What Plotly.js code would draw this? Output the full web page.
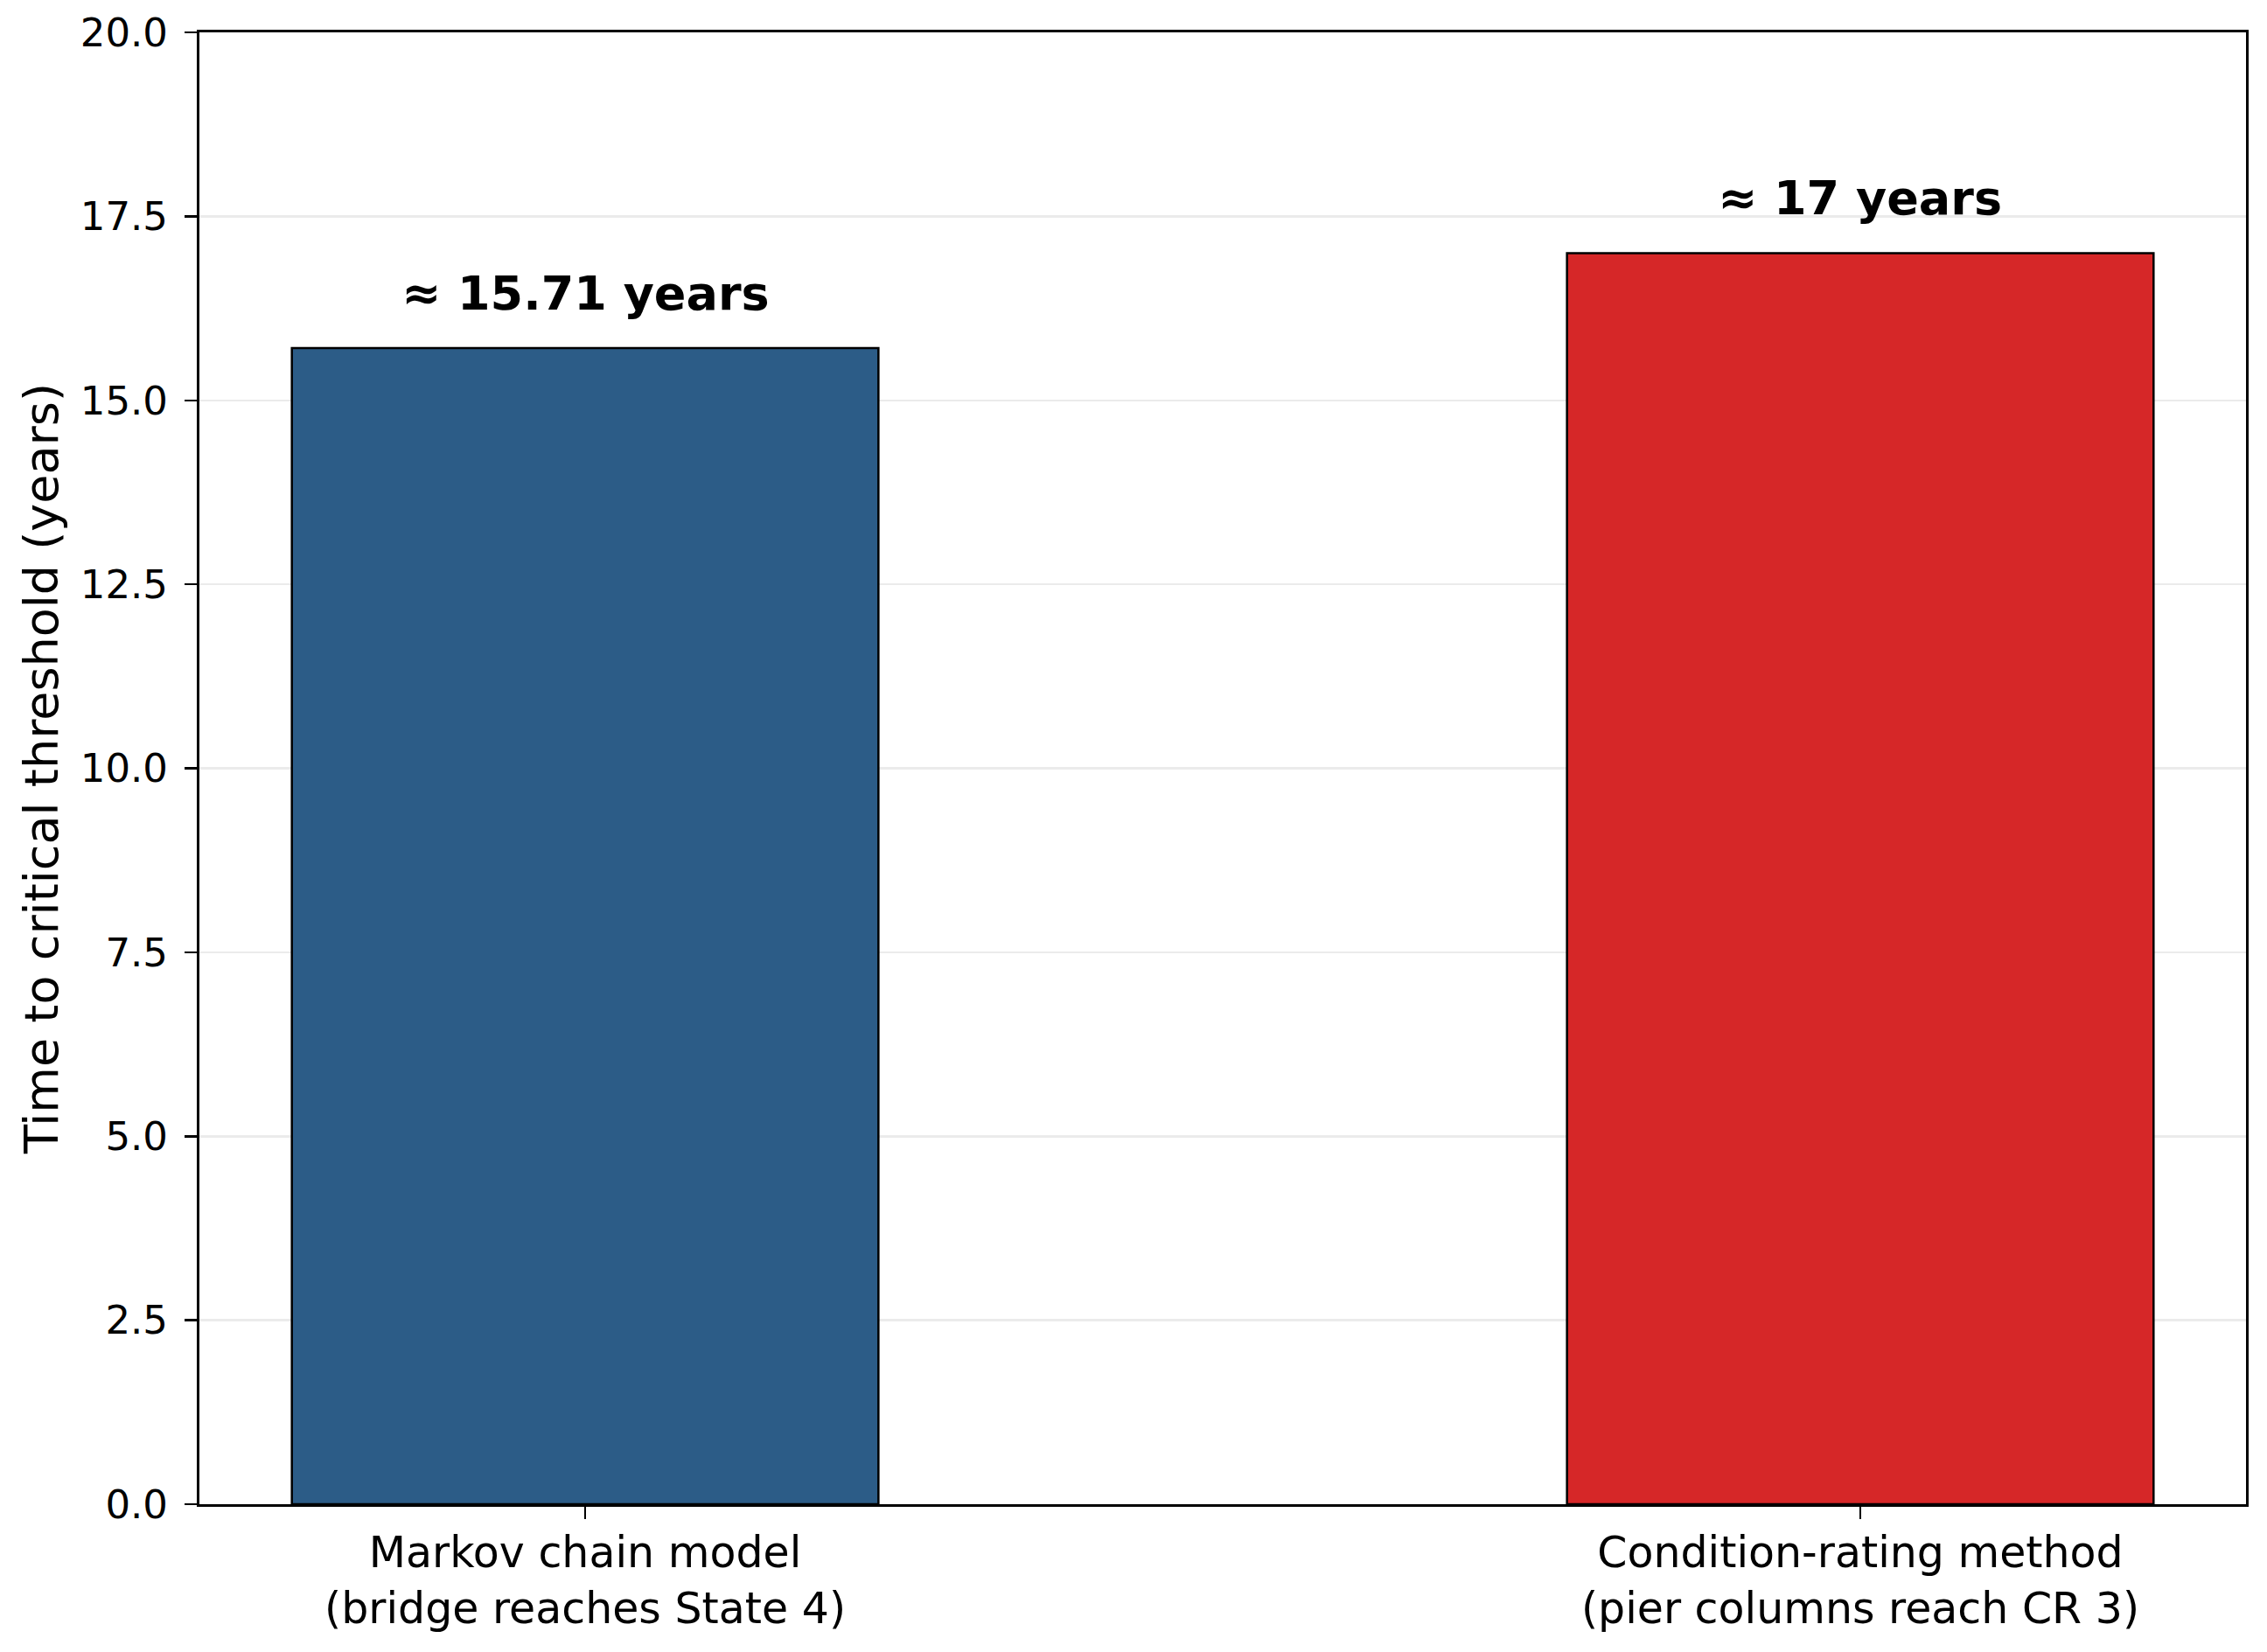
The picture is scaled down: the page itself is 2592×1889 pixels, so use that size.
<!DOCTYPE html>
<html>
<head>
<meta charset="utf-8">
<script src="https://cdn.plot.ly/plotly-3.0.1.min.js"></script>
<style>
  html, body { margin: 0; padding: 0; background: #ffffff; }
  #chart { width: 2592px; height: 1889px; }
</style>
</head>
<body>
<div id="chart"></div>
<script>
var categories = [
  'Markov chain model<br>(bridge reaches State 4)',
  'Condition-rating method<br>(pier columns reach CR 3)'
];
var years = [15.71, 17];
var barLabels = ['≈ 15.71 years', '≈ 17 years'];
var barColors = ['#2c5c87', '#d62728'];
var yTicks = [0, 2.5, 5, 7.5, 10, 12.5, 15, 17.5, 20];

var fontFamily = 'DejaVu Sans, Liberation Sans, sans-serif';

var trace = {
  type: 'bar',
  x: categories,
  y: years,
  width: 0.46,
  marker: {
    color: barColors,
    line: { color: '#000000', width: 2.5 }
  },
  hoverinfo: 'skip'
};

// bold value labels sitting above each bar
var annotations = categories.map(function (cat, i) {
  return {
    x: cat,
    y: years[i],
    xref: 'x',
    yref: 'y',
    text: '<b>' + barLabels[i] + '</b>',
    showarrow: false,
    xanchor: 'center',
    yanchor: 'bottom',
    yshift: 29,
    font: { family: fontFamily, size: 54, color: '#000000' }
  };
});

var layout = {
  width: 2592,
  height: 1889,
  margin: { l: 228, r: 24, t: 37, b: 169, pad: 0 },
  paper_bgcolor: '#ffffff',
  plot_bgcolor: '#ffffff',
  font: { family: fontFamily, color: '#000000', size: 49 },
  showlegend: false,
  bargap: 0,
  annotations: annotations,
  xaxis: {
    type: 'category',
    range: [-0.3025, 1.3025],
    showline: true,
    mirror: true,
    linecolor: '#000000',
    linewidth: 3,
    showgrid: false,
    ticks: 'outside',
    ticklen: 14,
    tickwidth: 2.5,
    tickcolor: '#000000',
    ticklabelstandoff: -4,
    tickfont: { family: fontFamily, size: 49, color: '#000000' }
  },
  yaxis: {
    range: [0, 20],
    tickvals: yTicks,
    ticktext: yTicks.map(function (v) { return v.toFixed(1); }),
    showline: true,
    mirror: true,
    linecolor: '#000000',
    linewidth: 3,
    zeroline: false,
    showgrid: true,
    gridcolor: '#ebebeb',
    gridwidth: 2.5,
    ticks: 'outside',
    ticklen: 14,
    tickwidth: 2.5,
    tickcolor: '#000000',
    ticklabelstandoff: 10,
    tickfont: { family: fontFamily, size: 45, color: '#000000' },
    title: {
      text: 'Time to critical threshold (years)',
      font: { family: fontFamily, size: 54, color: '#000000' },
      standoff: 8
    }
  }
};

var config = { displayModeBar: false, staticPlot: true };

Plotly.newPlot('chart', [trace], layout, config);
</script>
</body>
</html>
